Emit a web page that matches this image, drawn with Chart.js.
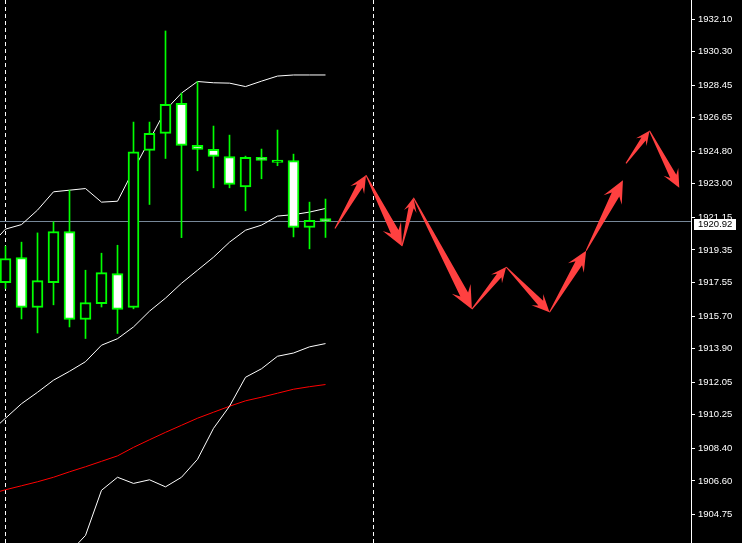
<!DOCTYPE html>
<html>
<head>
<meta charset="utf-8">
<script src="https://cdn.jsdelivr.net/npm/chart.js@4.4.1/dist/chart.umd.min.js"></script>
<style>
  html, body { margin: 0; padding: 0; background: #000; overflow: hidden; }
</style>
</head>
<body>
<canvas id="chart" width="742" height="543"></canvas>
<script>
// candles, one per bar index
const bars   = [0, 1, 2, 3, 4, 5, 6, 7, 8, 9, 10, 11, 12, 13, 14, 15, 16, 17, 18, 19, 20];
const opens  = [1917.55, 1918.93, 1916.17, 1917.55, 1920.37, 1915.51, 1916.39, 1918.05, 1916.17, 1924.85, 1925.79,
                1927.44, 1925.12, 1924.90, 1924.51, 1922.83, 1924.46, 1924.18, 1924.29, 1920.59, 1921.08];
const highs  = [1919.56, 1919.78, 1920.29, 1920.90, 1922.65, 1918.23, 1919.17, 1919.61, 1926.41, 1926.41, 1931.44,
                1928.01, 1928.64, 1926.19, 1925.69, 1924.53, 1924.92, 1925.97, 1924.64, 1921.99, 1922.16];
const lows   = [1917.22, 1915.54, 1914.77, 1916.32, 1915.10, 1914.46, 1916.20, 1914.74, 1916.10, 1921.86, 1924.40,
                1920.03, 1923.72, 1922.78, 1922.78, 1921.51, 1923.28, 1924.00, 1920.07, 1919.41, 1920.04];
const closes = [1918.88, 1916.17, 1917.66, 1920.37, 1915.51, 1916.45, 1918.10, 1916.06, 1924.77, 1925.79, 1927.39,
                1925.12, 1924.90, 1924.51, 1922.97, 1924.46, 1924.29, 1924.31, 1920.59, 1920.98, 1920.92];

// bollinger bands + red moving average (start one bar left of the view)
const lineBars   = [-1, 0, 1, 2, 3, 4, 5, 6, 7, 8, 9, 10, 11, 12, 13, 14, 15, 16, 17, 18, 19, 20];
const bandUpper  = [1919.55, 1920.50, 1920.75, 1921.55, 1922.56, 1922.65, 1922.74, 1921.99, 1922.04, 1923.76, 1925.41, 1927.07,
                    1928.01, 1928.65, 1928.58, 1928.56, 1928.37, 1928.67, 1928.95, 1929.01, 1929.01, 1929.01];
const bandMiddle = [1909.25, 1910.06, 1910.86, 1911.49, 1912.16, 1912.65, 1913.18, 1914.09, 1914.45, 1915.10, 1915.97, 1916.69,
                    1917.51, 1918.23, 1918.95, 1919.78, 1920.44, 1920.72, 1921.22, 1921.30, 1921.44, 1921.64];
const bandLower  = [1898.95, 1899.62, 1900.97, 1901.43, 1901.76, 1902.65, 1903.59, 1906.08, 1906.80, 1906.46, 1906.66, 1906.27,
                    1906.80, 1907.79, 1909.50, 1910.72, 1912.32, 1912.79, 1913.48, 1913.66, 1914.00, 1914.18];
const maRed      = [1905.86, 1906.11, 1906.33, 1906.55, 1906.80, 1907.10, 1907.38, 1907.68, 1907.98, 1908.45, 1908.87, 1909.28,
                    1909.67, 1910.06, 1910.39, 1910.72, 1911.02, 1911.22, 1911.44, 1911.66, 1911.80, 1911.92];

// forecast arrows (null splits the path)
const forecastX     = [20.59, 22.53, 24.78, 25.50, 29.15, 31.29, 34.00, 36.29, 38.59, null, 38.78, 40.25, 42.11];
const forecastPrice = [1920.54, 1923.48, 1919.56, 1922.23, 1916.08, 1918.41, 1915.91, 1919.30, 1923.20, null, 1924.13, 1925.93, 1922.78];

const separators = [0, 23];
const priceTicks = [1932.10, 1930.30, 1928.45, 1926.65, 1924.80, 1923.00, 1921.15, 1919.35, 1917.55,
                    1915.70, 1913.90, 1912.05, 1910.25, 1908.40, 1906.60, 1904.75];
const lastPrice = 1920.92;

const xMin = -0.34375, xMax = 42.84375;
const yMin = 1903.17, yMax = 1933.15;

const LIME = '#00ff00';

function pts(values) {
  return lineBars.map((b, i) => ({ x: b, y: values[i] }));
}

function drawArrow(ctx, x0, y0, x1, y1) {
  const dx = x1 - x0, dy = y1 - y0;
  const len = Math.hypot(dx, dy);
  const head = Math.min(23, Math.max(14, len * 0.28));
  const hw = head * 0.46;
  const sw = head * 0.19;
  ctx.save();
  ctx.translate(x0, y0);
  ctx.rotate(Math.atan2(dy, dx));
  ctx.beginPath();
  ctx.moveTo(0, -0.5);
  ctx.lineTo(len - head * 0.72, -sw);
  ctx.lineTo(len - head, -hw);
  ctx.lineTo(len, 0);
  ctx.lineTo(len - head, hw);
  ctx.lineTo(len - head * 0.72, sw);
  ctx.lineTo(0, 0.5);
  ctx.closePath();
  ctx.fill();
  ctx.restore();
}

const arrowPlugin = {
  id: 'forecastArrows',
  afterDatasetsDraw(chart) {
    const meta = chart.getDatasetMeta(0);
    const ctx = chart.ctx;
    ctx.save();
    ctx.fillStyle = '#ff4040';
    for (let i = 1; i < forecastX.length; i++) {
      if (forecastX[i] == null || forecastX[i - 1] == null) continue;
      const a = meta.data[i - 1], b = meta.data[i];
      drawArrow(ctx, a.x, a.y, b.x, b.y);
    }
    ctx.restore();
  }
};

const priceLabelPlugin = {
  id: 'priceLabel',
  afterDraw(chart) {
    const ctx = chart.ctx;
    const y = chart.scales.y.getPixelForValue(lastPrice);
    const left = chart.chartArea.right + 3;
    ctx.save();
    ctx.fillStyle = '#ffffff';
    ctx.fillRect(left, Math.round(y) - 3, 42, 11);
    ctx.fillStyle = '#000000';
    ctx.font = '9.5px "Liberation Sans", Arial, sans-serif';
    ctx.textBaseline = 'middle';
    ctx.fillText(lastPrice.toFixed(2), left + 4, Math.round(y) + 2.5);
    ctx.restore();
  }
};

const ctx = document.getElementById('chart').getContext('2d');

new Chart(ctx, {
  type: 'line',
  data: {
    datasets: [
      {
        label: 'Forecast',
        data: forecastX.map((x, i) => ({ x: x, y: forecastPrice[i] })),
        showLine: false,
        pointRadius: 0
      },
      {
        type: 'bar',
        label: 'Body',
        data: bars.map((b, i) => ({ x: b, y: [opens[i], closes[i]] })),
        backgroundColor: bars.map((b, i) => (closes[i] >= opens[i] ? '#000000' : '#ffffff')),
        borderColor: LIME,
        borderWidth: 2,
        borderSkipped: false,
        barThickness: 11,
        grouped: false
      },
      {
        type: 'bar',
        label: 'Wick',
        data: bars.map((b, i) => ({ x: b, y: [lows[i], highs[i]] })),
        backgroundColor: LIME,
        borderWidth: 0,
        barThickness: 1,
        grouped: false
      },
      { label: 'Upper', data: pts(bandUpper), borderColor: '#ffffff', borderWidth: 1, pointRadius: 0, tension: 0 },
      { label: 'Middle', data: pts(bandMiddle), borderColor: '#ffffff', borderWidth: 1, pointRadius: 0, tension: 0 },
      { label: 'Lower', data: pts(bandLower), borderColor: '#ffffff', borderWidth: 1, pointRadius: 0, tension: 0 },
      { label: 'MA', data: pts(maRed), borderColor: '#ff0000', borderWidth: 1, pointRadius: 0, tension: 0 },
      {
        label: 'Bid',
        data: [{ x: xMin, y: lastPrice }, { x: xMax, y: lastPrice }],
        borderColor: '#778899',
        borderWidth: 1,
        pointRadius: 0
      }
    ]
  },
  options: {
    responsive: false,
    animation: false,
    devicePixelRatio: 1,
    layout: { padding: 0 },
    plugins: {
      legend: { display: false },
      tooltip: { enabled: false }
    },
    scales: {
      x: {
        type: 'linear',
        min: xMin,
        max: xMax,
        offset: false,
        afterBuildTicks: (s) => { s.ticks = separators.map((v) => ({ value: v })); },
        ticks: { display: false },
        grid: { color: '#ffffff', lineWidth: 1, drawTicks: false, offset: false },
        border: { display: false, dash: [4, 3] }
      },
      y: {
        type: 'linear',
        position: 'right',
        min: yMin,
        max: yMax,
        afterBuildTicks: (s) => { s.ticks = priceTicks.map((v) => ({ value: v })); },
        afterFit: (s) => { s.width = 51; s.paddingTop = 0; s.paddingBottom = 0; },
        ticks: {
          color: '#ffffff',
          autoSkip: false,
          padding: 3,
          font: { family: '"Liberation Sans", Arial, sans-serif', size: 9.5 },
          callback: (v) => Number(v).toFixed(2)
        },
        grid: { drawOnChartArea: false, drawTicks: true, tickLength: 4, tickColor: '#ffffff' },
        border: { display: true, color: '#ffffff', width: 1 }
      }
    }
  },
  plugins: [arrowPlugin, priceLabelPlugin]
});
</script>
</body>
</html>
